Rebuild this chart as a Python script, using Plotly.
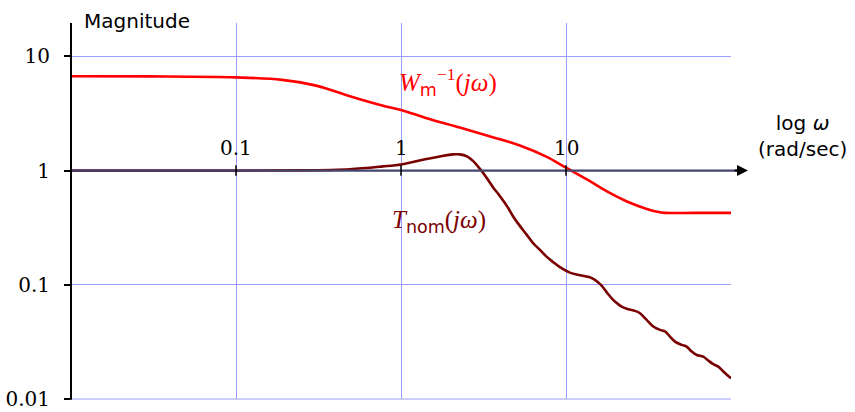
import math
import plotly.graph_objects as go

# Frequency response data (rad/sec, magnitude)
w_wm = [0.01, 0.03, 0.1, 0.19, 0.31, 0.49, 0.78, 1.0, 1.43, 2.27, 3.6, 5.25,
        7.65, 10, 13.4, 17.7, 23.4, 30.9, 37.1, 40, 60, 100]
mag_wm = [6.7, 6.68, 6.55, 6.23, 5.52, 4.47, 3.69, 3.4, 2.88, 2.38, 1.96, 1.66,
          1.32, 1.06, 0.837, 0.657, 0.537, 0.462, 0.432, 0.426, 0.426, 0.426]

w_t = [0.01, 0.1, 0.243, 0.489, 0.776, 1.0, 1.43, 1.72, 2.06, 2.27, 2.51, 2.73,
       3.01, 3.31, 3.6, 3.97, 4.38, 4.76, 5.25, 5.79, 6.3, 6.95, 7.65, 8.33,
       9.18, 10.56, 12.14, 13.96, 14.97, 16.44, 18.03, 19.8, 21.74, 23.84,
       26.17, 28.07, 30.83, 33.8, 37.11, 39.8, 42.67, 45.75, 50.23, 53.86,
       57.77, 61.94, 67.92, 72.83, 78.09, 83.75, 89.81, 96.3, 100]
mag_t = [1.0, 1.0, 1.004, 1.029, 1.089, 1.133, 1.266, 1.331, 1.386, 1.386, 1.331,
         1.216, 1.035, 0.863, 0.72, 0.6, 0.491, 0.401, 0.328, 0.2735, 0.2328,
         0.202, 0.1755, 0.1587, 0.1426, 0.1279, 0.1214, 0.1165, 0.1104, 0.0984,
         0.0827, 0.0713, 0.0644, 0.0611, 0.0591, 0.0564, 0.0493, 0.0431, 0.0403,
         0.0391, 0.0352, 0.0318, 0.0298, 0.0288, 0.026, 0.0243, 0.0235, 0.0217,
         0.0202, 0.0192, 0.0174, 0.0159, 0.0152]

x_ticks = [0.1, 1, 10]
x_tick_text = ["0.1", "1", "10"]
y_ticks = [0.01, 0.1, 1, 10]
y_tick_text = ["0.01", "0.1", "1", "10"]

X_RANGE = [-2, 2]          # log10 limits
Y_RANGE = [-2, 1.2925]     # log10 limits

GRID = "#9c9cff"
SERIF = "Liberation Serif"
NUM = "DejaVu Serif"
SANS = "DejaVu Sans"

fig = go.Figure()
fig.add_trace(go.Scatter(x=w_wm, y=mag_wm, mode="lines",
                         line=dict(color="#ff0000", width=2.6, shape="spline", smoothing=1.0),
                         hoverinfo="skip"))
fig.add_trace(go.Scatter(x=w_t, y=mag_t, mode="lines",
                         line=dict(color="#7a0000", width=2.6, shape="spline", smoothing=0.9),
                         hoverinfo="skip"))

# paper-space height of the unity-gain line
y_one = (0 - Y_RANGE[0]) / (Y_RANGE[1] - Y_RANGE[0])
tip = 1.0258

shapes = [
    # bottom grid line at the lower range limit
    dict(type="line", xref="paper", yref="paper", x0=0, x1=1, y0=0, y1=0,
         line=dict(color=GRID, width=1), layer="below"),
    # unity-gain axis
    dict(type="line", xref="paper", yref="paper", x0=0, x1=tip - 0.01,
         y0=y_one, y1=y_one, line=dict(color="#45456f", width=2.4), layer="above"),
    # vertical magnitude axis
    dict(type="line", xref="paper", yref="paper", x0=0, x1=0, y0=-0.002, y1=1,
         line=dict(color="black", width=2), layer="above"),
]
for xv in x_ticks:
    shapes.append(dict(type="line", xref="x", yref="paper", x0=xv, x1=xv,
                       y0=y_one - 0.014, y1=y_one + 0.014,
                       line=dict(color="black", width=1.5), layer="above"))

annotations = [
    dict(xref="paper", yref="paper", x=tip, y=y_one, ax=-15, ay=0, text="",
         showarrow=True, arrowhead=2, arrowsize=1.1, arrowwidth=2, arrowcolor="black"),
    dict(xref="paper", yref="paper", x=(82 - 71) / 660, y=1.005, xanchor="left",
         yanchor="middle", text="Magnitude", showarrow=False,
         font=dict(family=SANS, size=20, color="black")),
    dict(xref="paper", yref="paper", x=1.109, y=0.70, xanchor="center",
         yanchor="middle", text="log <i>ω</i><br>(rad/sec)", showarrow=False,
         font=dict(family=SANS, size=20, color="black")),
    dict(xref="x", yref="y", x=math.log10(1.92), y=math.log10(5.98), showarrow=False,
         text="<i>W</i><span style=\"font-family:DejaVu Sans\"><sub>m</sub></span>"
              "<sup>−1</sup>(<i>jω</i>)",
         font=dict(family=SERIF, size=25, color="#ff0000")),
    dict(xref="x", yref="y", x=math.log10(1.69), y=math.log10(0.355), showarrow=False,
         text="<i>T</i><span style=\"font-family:DejaVu Sans\"><sub>nom</sub></span>(<i>jω</i>)",
         font=dict(family=SERIF, size=25, color="#7a0000")),
]
for xv, tt in zip(x_ticks, x_tick_text):
    annotations.append(dict(xref="x", yref="paper", x=math.log10(xv), y=y_one,
                            yanchor="bottom", yshift=9, text=tt, showarrow=False,
                            font=dict(family=NUM, size=20, color="black")))

fig.update_layout(
    width=855, height=412,
    margin=dict(l=71, r=124, t=23, b=13, autoexpand=False),
    paper_bgcolor="white", plot_bgcolor="white",
    showlegend=False,
    shapes=shapes,
    annotations=annotations,
    xaxis=dict(type="log", range=X_RANGE, tickvals=x_ticks, showticklabels=False,
               showgrid=True, gridcolor=GRID, gridwidth=1, zeroline=False,
               showline=False, ticks="", automargin=False),
    yaxis=dict(type="log", range=Y_RANGE, tickvals=y_ticks, ticktext=y_tick_text,
               showgrid=True, gridcolor=GRID, gridwidth=1, zeroline=False,
               showline=False, automargin=False,
               ticks="outside", ticklen=6, tickwidth=1.5, tickcolor="black",
               ticklabelstandoff=10,
               tickfont=dict(family=NUM, size=20, color="black")),
)

fig.write_html("out.html")
